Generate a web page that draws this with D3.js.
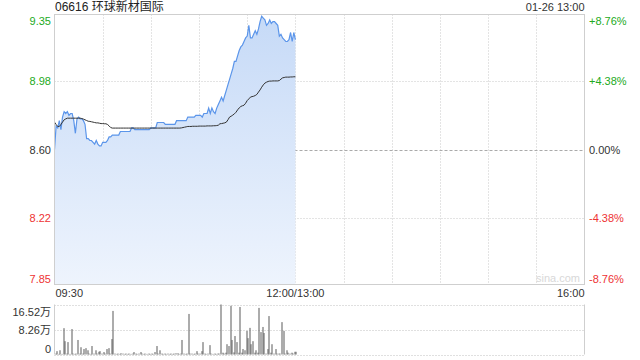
<!DOCTYPE html>
<html>
<head>
<meta charset="utf-8">
<script src="https://cdn.jsdelivr.net/npm/d3@7"></script>
<style>
body{margin:0;background:#fff;}
svg text{font-family:"Liberation Sans","Noto Sans CJK SC",Arial,sans-serif;}
</style>
</head>
<body>
<svg width="640" height="360"></svg>
<script>
// minute data 09:30 - 12:00
var prices = [
 8.60,8.73,8.72,8.76,8.71,8.78,8.81,8.80,8.81,8.79,
 8.80,8.80,8.76,8.69,8.77,8.78,8.77,8.77,8.76,8.74,
 8.66,8.66,8.65,8.65,8.64,8.63,8.65,8.63,8.62,8.62,
 8.64,8.64,8.64,8.65,8.67,8.67,8.68,8.68,8.68,8.68,
 8.68,8.70,8.70,8.70,8.70,8.70,8.70,8.70,8.72,8.72,
 8.71,8.71,8.71,8.71,8.71,8.71,8.71,8.71,8.71,8.71,
 8.72,8.72,8.72,8.72,8.75,8.75,8.75,8.75,8.75,8.74,
 8.74,8.74,8.74,8.74,8.74,8.74,8.76,8.76,8.76,8.76,
 8.76,8.76,8.76,8.78,8.78,8.78,8.78,8.78,8.79,8.79,
 8.79,8.79,8.78,8.80,8.80,8.80,8.83,8.80,8.83,8.81,
 8.80,8.83,8.85,8.87,8.89,8.87,8.90,8.93,8.96,8.99,
 9.02,9.05,9.09,9.09,9.12,9.15,9.17,9.18,9.20,9.22,
 9.23,9.29,9.22,9.22,9.24,9.26,9.24,9.27,9.31,9.34,
 9.33,9.32,9.29,9.30,9.32,9.30,9.31,9.31,9.30,9.29,
 9.23,9.24,9.22,9.21,9.20,9.20,9.21,9.25,9.20,9.25,
 9.21];

var avgPrices = [
 8.752,8.739,8.728,8.728,8.739,8.752,8.765,8.770,8.774,8.774,
 8.774,8.774,8.774,8.774,8.774,8.774,8.774,8.772,8.769,8.765,
 8.761,8.757,8.756,8.754,8.752,8.750,8.748,8.748,8.746,8.744,
 8.744,8.743,8.743,8.739,8.731,8.722,8.719,8.719,8.719,8.719,
 8.719,8.719,8.719,8.719,8.719,8.719,8.719,8.719,8.719,8.719,
 8.719,8.719,8.719,8.719,8.719,8.719,8.719,8.719,8.719,8.719,
 8.719,8.719,8.719,8.719,8.719,8.719,8.719,8.719,8.719,8.719,
 8.719,8.719,8.719,8.719,8.719,8.719,8.719,8.719,8.719,8.720,
 8.722,8.724,8.726,8.728,8.728,8.728,8.729,8.729,8.729,8.729,
 8.730,8.730,8.730,8.730,8.730,8.731,8.731,8.731,8.731,8.732,
 8.732,8.733,8.735,8.743,8.744,8.746,8.748,8.752,8.765,8.780,
 8.785,8.791,8.798,8.807,8.820,8.831,8.839,8.843,8.846,8.857,
 8.872,8.881,8.891,8.894,8.896,8.900,8.906,8.919,8.931,8.946,
 8.959,8.969,8.974,8.978,8.980,8.980,8.981,8.981,8.981,8.981,
 8.983,8.991,8.998,9.000,9.002,9.002,9.002,9.003,9.003,9.004,
 9.004];

// volume in 万 shares
var volumes = [
 0.3,1.1,0.2,1.4,0.2,8.7,4.4,0.3,4.1,0.2,
 8.4,0.3,0.2,0.3,4.8,0.3,2.4,0.3,1.8,2.1,
 1.4,0.3,0.2,2.8,0.3,1.4,0.3,0.9,1.1,0.3,
 0.8,0.3,1.8,2.1,0.3,5.1,14.4,0.3,0.2,0.3,
 0.2,0.4,0.3,0.2,0.3,0.2,0.3,0.2,0.3,0.8,
 0.3,0.2,0.3,0.8,0.3,0.2,0.3,0.2,0.3,0.2,
 0.3,0.2,0.8,2.8,0.3,1.4,0.3,0.2,0.3,0.2,
 0.3,0.2,0.3,0.2,0.3,0.4,0.4,0.2,0.3,4.8,
 0.3,0.2,0.3,13.4,0.3,0.3,0.2,0.3,1.1,0.3,
 0.3,1.1,4.1,0.3,0.2,0.3,3.1,0.3,0.2,0.3,
 0.2,0.3,0.3,16.52,0.6,0.3,0.6,3.4,2.8,16.1,
 4.8,0.7,6.1,4.1,0.6,15.7,0.6,1.8,1.4,7.8,
 5.4,8.8,3.4,4.4,0.6,1.4,0.6,15.4,7.4,9.1,
 7.1,0.3,1.8,12.7,0.6,3.4,0.3,1.8,0.3,0.3,
 0.3,10.7,7.8,0.3,1.4,0.6,0.3,0.6,0.3,0.9,
 0.9];

var prevClose = 8.60;
var priceTicks = [9.35, 8.98, 8.60, 8.22, 7.85];
var pctTicks = ["+8.76%", "+4.38%", "0.00%", "-4.38%", "-8.76%"];
var volTicks = [16.52, 8.26, 0];
var volTickLabels = ["16.52万", "8.26万", "0"];
var timeLabels = ["09:30", "12:00/13:00", "16:00"];
var timeLabelIdx = [0, 150, 330];
var title = "06616 环球新材国际";
var stamp = "01-26 13:00";

var svg = d3.select("svg");
var pLeft = 54.5, pRight = 584.5, pTop = 14.5, pBottom = 284.5;
var vTop = 304.5, vBottom = 354.5;
var green = "#22aa22", red = "#ee3333";

var x = d3.scaleLinear().domain([0, 330]).range([pLeft, pRight]);
var y = d3.scaleLinear().domain([7.85, 9.35]).range([pBottom, pTop]);
var yv = d3.scaleLinear().domain([0, 16.52]).range([vBottom, vTop]);

function tickColor(v){ return v > prevClose ? green : (v < prevClose ? red : "#333"); }

// grid
var grid = svg.append("g");
d3.range(30, 330, 30).forEach(function(m){
    grid.append("line").attr("x1", Math.round(x(m))+0.5).attr("x2", Math.round(x(m))+0.5)
        .attr("y1", pTop).attr("y2", pBottom)
        .attr("stroke", "#c8c8c8").attr("stroke-dasharray", "1,2");
});
priceTicks.forEach(function(p){
    if (p == 9.35 || p == 7.85) return;
    grid.append("line").attr("x1", pLeft).attr("x2", pRight)
        .attr("y1", Math.round(y(p))+0.5).attr("y2", Math.round(y(p))+0.5)
        .attr("stroke", p == prevClose ? "#aaa" : "#c8c8c8")
        .attr("stroke-dasharray", p == prevClose ? "3,2" : "1,2");
});
volTicks.forEach(function(v){
    grid.append("line").attr("x1", pLeft).attr("x2", pRight)
        .attr("y1", Math.round(yv(v))+0.5).attr("y2", Math.round(yv(v))+0.5)
        .attr("stroke", "#c0c0c0").attr("stroke-dasharray", "1,2");
});

// watermark
svg.append("text").attr("x", 558).attr("y", 282).attr("text-anchor", "middle")
    .attr("font-size", "11px").attr("fill", "#d8d8d8").text("sina.com");

// price area + line
var area = d3.area().x(function(d,i){return x(i);}).y0(pBottom).y1(function(d){return y(d);});
var line = d3.line().x(function(d,i){return x(i);}).y(function(d){return y(d);});

var grad = svg.append("defs").append("linearGradient").attr("id", "fillGrad")
    .attr("x1", 0).attr("y1", 0).attr("x2", 0).attr("y2", 1);
grad.append("stop").attr("offset", "0%").attr("stop-color", "#c6daf7");
grad.append("stop").attr("offset", "100%").attr("stop-color", "#eef4fd");

svg.append("path").datum(prices).attr("d", area).attr("fill", "url(#fillGrad)");
svg.append("path").datum(prices).attr("d", line).attr("fill", "none")
    .attr("stroke", "#5b95ea").attr("stroke-width", 1.2);
svg.append("path").datum(avgPrices).attr("d", line).attr("fill", "none")
    .attr("stroke", "#333").attr("stroke-width", 1);

// volume bars
svg.append("g").selectAll("rect").data(volumes).enter().append("rect")
    .attr("x", function(d,i){return Math.round(x(i)) + 0.5;})
    .attr("y", function(d){return yv(d);})
    .attr("width", 1)
    .attr("height", function(d){return vBottom - yv(d);})
    .attr("fill", "#5a5a5a");

// borders
svg.append("rect").attr("x", pLeft).attr("y", pTop).attr("width", pRight-pLeft).attr("height", pBottom-pTop)
    .attr("fill", "none").attr("stroke", "#cfcfcf");
svg.append("line").attr("x1", pLeft).attr("x2", pLeft).attr("y1", vTop).attr("y2", vBottom).attr("stroke", "#cfcfcf");
svg.append("line").attr("x1", pRight).attr("x2", pRight).attr("y1", vTop).attr("y2", vBottom).attr("stroke", "#cfcfcf");

// labels
svg.append("text").attr("x", 55).attr("y", 11).attr("font-size", "12px").attr("fill", "#222").text(title);
svg.append("text").attr("x", pRight).attr("y", 11).attr("text-anchor", "end")
    .attr("font-size", "11px").attr("fill", "#333").text(stamp);

priceTicks.forEach(function(p, i){
    var ty = y(p) + 4;
    if (i == 0) ty = y(p) + 10;
    if (i == priceTicks.length-1) ty = y(p) - 2;
    svg.append("text").attr("x", 51).attr("y", ty).attr("text-anchor", "end")
        .attr("font-size", "11px").attr("fill", tickColor(p)).text(p.toFixed(2));
    svg.append("text").attr("x", 589).attr("y", ty).attr("text-anchor", "start")
        .attr("font-size", "11px").attr("fill", tickColor(p)).text(pctTicks[i]);
});

volTicks.forEach(function(v, i){
    var ty = yv(v) + 4;
    if (i == 0) ty = yv(v) + 11;
    if (i == volTicks.length-1) ty = yv(v) - 2;
    svg.append("text").attr("x", 51).attr("y", ty).attr("text-anchor", "end")
        .attr("font-size", "11px").attr("fill", "#333").text(volTickLabels[i]);
});

timeLabels.forEach(function(t, i){
    var anchor = i == 0 ? "start" : (i == timeLabels.length-1 ? "end" : "middle");
    svg.append("text").attr("x", i == 0 ? x(timeLabelIdx[i]) + 1 : x(timeLabelIdx[i]))
        .attr("y", 297).attr("text-anchor", anchor)
        .attr("font-size", "11px").attr("fill", "#333").text(t);
});
</script>
</body>
</html>
